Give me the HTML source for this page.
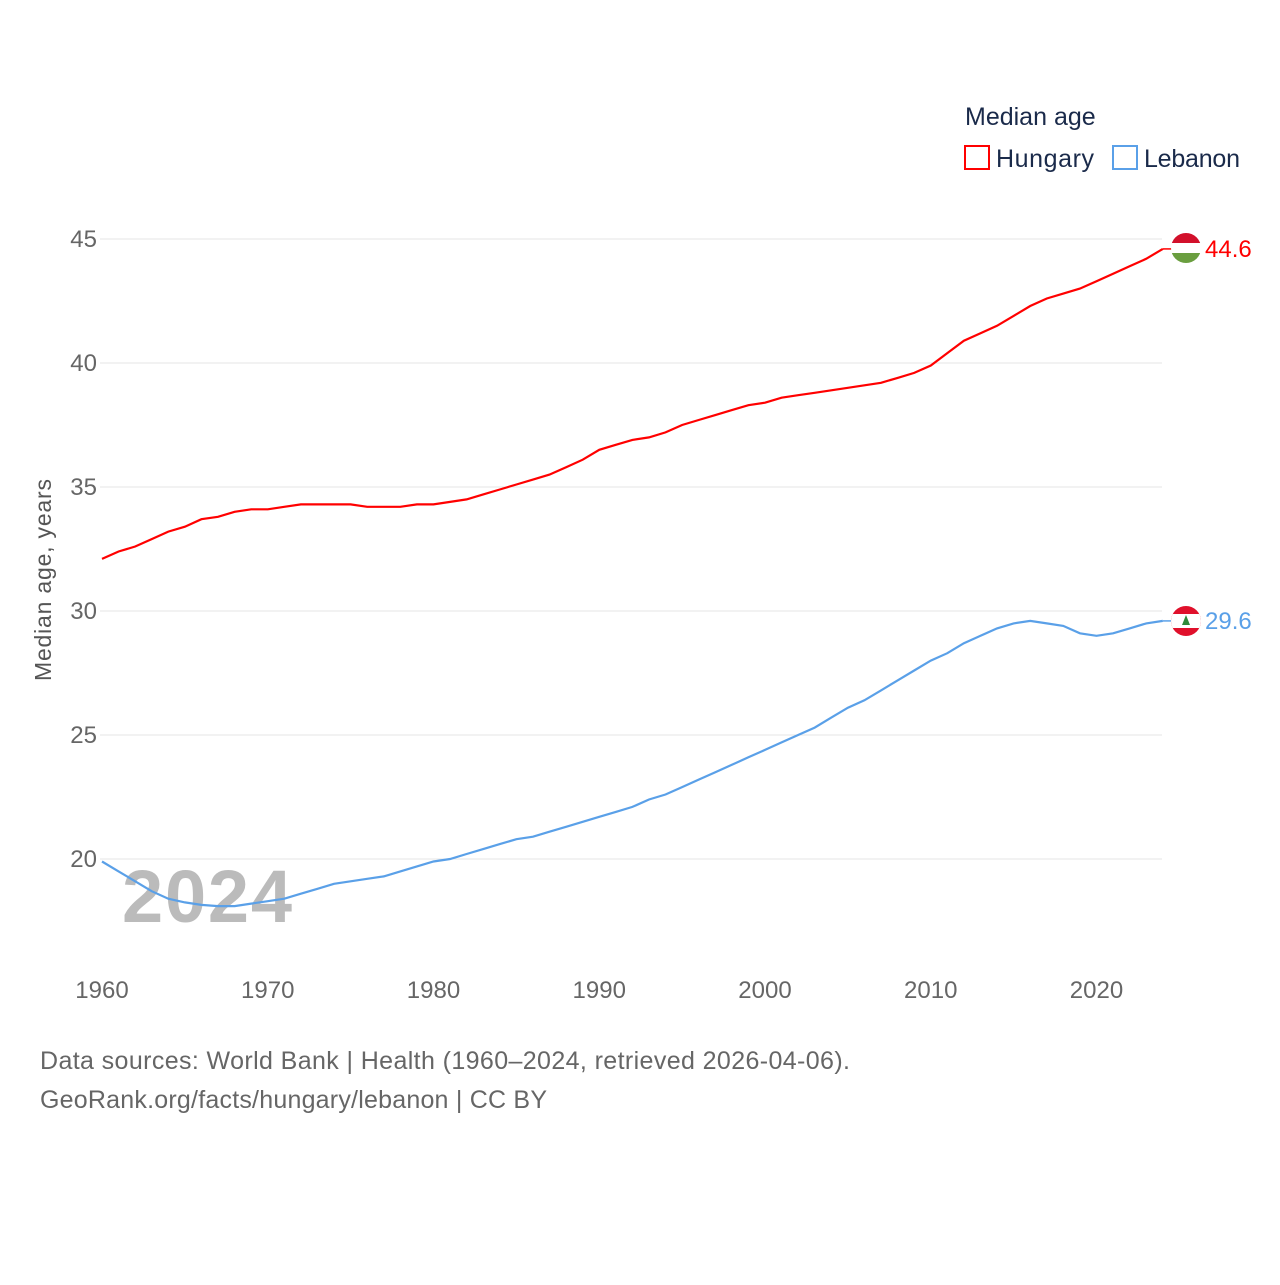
<!DOCTYPE html>
<html><head><meta charset="utf-8"><style>
body{margin:0;background:#fff;font-family:"Liberation Sans",sans-serif}
svg text{font-family:"Liberation Sans",sans-serif}
</style></head><body>
<svg width="1280" height="1280">
<g id="grid"></g>
<text x="51" y="580" transform="rotate(-90 51 580)" text-anchor="middle" font-size="23" fill="#555" textLength="202">Median age, years</text>
<text x="122" y="922" font-size="74" font-weight="bold" fill="#bbb" textLength="170">2024</text>
<g id="series"></g>
<g>
<text x="965" y="125" font-size="25" fill="#1a2a4a">Median age</text>
<rect x="965" y="146" width="24" height="23" fill="none" stroke="#f00" stroke-width="2"/>
<text x="996" y="167" font-size="25" fill="#1a2a4a" textLength="98">Hungary</text>
<rect x="1113" y="146" width="24" height="23" fill="none" stroke="#5aa0e8" stroke-width="2"/>
<text x="1144" y="167" font-size="25" fill="#1a2a4a" textLength="96">Lebanon</text>
</g>
<g font-size="25" fill="#666">
<text x="40" y="1069" textLength="810">Data sources: World Bank | Health (1960–2024, retrieved 2026-04-06).</text>
<text x="40" y="1108" textLength="507">GeoRank.org/facts/hungary/lebanon | CC BY</text>
</g>
<defs><clipPath id="c1"><circle cx="1186" cy="248" r="15"/></clipPath><clipPath id="c2"><circle cx="1186" cy="621" r="15"/></clipPath></defs>
<g clip-path="url(#c1)">
<rect x="1171" y="233" width="30" height="10" fill="#d2102b"/><rect x="1171" y="243" width="30" height="10" fill="#fff"/><rect x="1171" y="253" width="30" height="10" fill="#6a9e3f"/></g>
<g clip-path="url(#c2)">
<rect x="1171" y="606" width="30" height="30" fill="#e0102b"/><rect x="1171" y="614" width="30" height="14" fill="#fff"/><polygon points="1186,615 1182,625 1190,625" fill="#2e8b3a"/></g>
</svg>
<script>
const years=[];for(let y=1960;y<=2024;y++)years.push(y);
const hungary=[32.1,32.4,32.6,32.9,33.2,33.4,33.7,33.8,34.0,34.1,34.1,34.2,34.3,34.3,34.3,34.3,34.2,34.2,34.2,34.3,34.3,34.4,34.5,34.7,34.9,35.1,35.3,35.5,35.8,36.1,36.5,36.7,36.9,37.0,37.2,37.5,37.7,37.9,38.1,38.3,38.4,38.6,38.7,38.8,38.9,39.0,39.1,39.2,39.4,39.6,39.9,40.4,40.9,41.2,41.5,41.9,42.3,42.6,42.8,43.0,43.3,43.6,43.9,44.2,44.6];
const lebanon=[19.9,19.5,19.1,18.7,18.4,18.25,18.15,18.1,18.1,18.2,18.3,18.4,18.6,18.8,19.0,19.1,19.2,19.3,19.5,19.7,19.9,20.0,20.2,20.4,20.6,20.8,20.9,21.1,21.3,21.5,21.7,21.9,22.1,22.4,22.6,22.9,23.2,23.5,23.8,24.1,24.4,24.7,25.0,25.3,25.7,26.1,26.4,26.8,27.2,27.6,28.0,28.3,28.7,29.0,29.3,29.5,29.6,29.5,29.4,29.1,29.0,29.1,29.3,29.5,29.6];
const yTicks=[20,25,30,35,40,45];
const xTicks=[1960,1970,1980,1990,2000,2010,2020];
const X=y=>102+(y-1960)*16.575, Y=v=>611-(v-30)*24.8;
const NS="http://www.w3.org/2000/svg";
const grid=document.getElementById('grid'),ser=document.getElementById('series');
function mk(tag,attrs,parent){const e=document.createElementNS(NS,tag);for(const k in attrs)e.setAttribute(k,attrs[k]);parent.appendChild(e);return e;}
yTicks.forEach(t=>{
const l=mk('line',{x1:100,x2:1162,y1:Y(t),y2:Y(t),stroke:'#e6e6e6'},grid);


const tx=mk('text',{x:97,y:Y(t)+8,'text-anchor':'end','font-size':24,fill:'#666'},grid);tx.textContent=t;


});
xTicks.forEach(t=>{
const tx=mk('text',{x:X(t),y:998,'text-anchor':'middle','font-size':24,fill:'#666'},grid);tx.textContent=t;


});
function line(vals,color,name,labelColor){
const d=vals.map((v,i)=>(i?'L':'M')+X(years[i]).toFixed(1)+','+Y(v).toFixed(1)).join('');
const p=mk('path',{d:d,fill:'none',stroke:color,'stroke-width':2.2},ser);


const last=vals[vals.length-1];
mk('line',{x1:X(2024),x2:1172,y1:Y(last),y2:Y(last),stroke:color,'stroke-width':1.5},ser);
const tx=mk('text',{x:1205,y:Y(last)+8,'font-size':24,fill:labelColor},ser);tx.textContent=last.toFixed(1);


}
line(hungary,'#f00','hungary','#f00');
line(lebanon,'#5aa0e8','lebanon','#5aa0e8');
</script>
</body></html>
